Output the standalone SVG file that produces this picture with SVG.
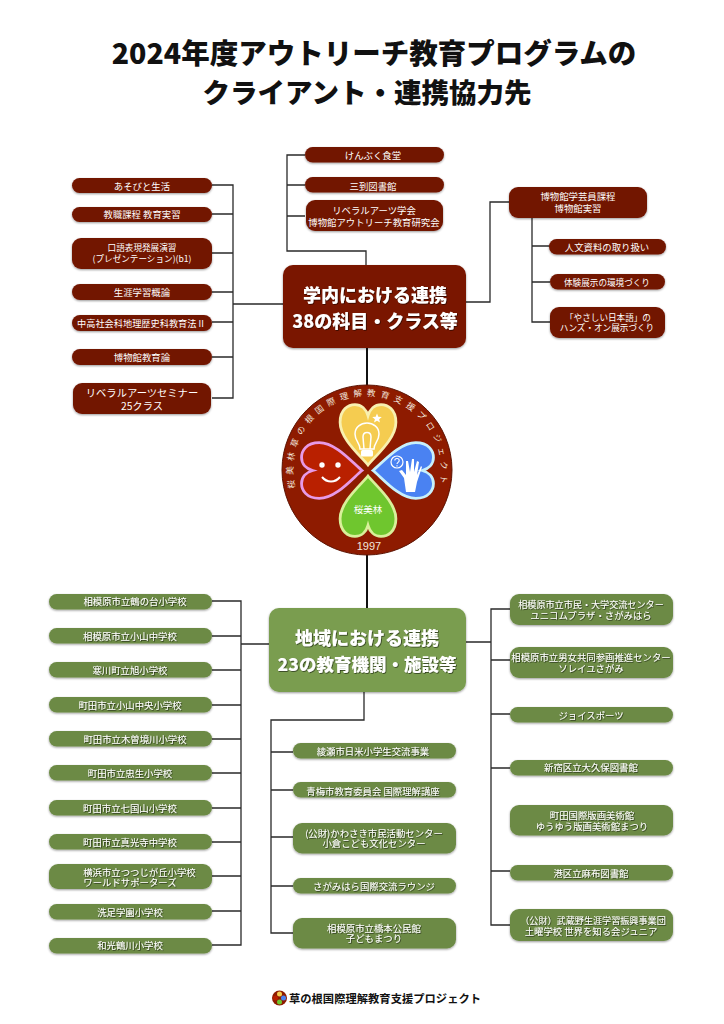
<svg xmlns="http://www.w3.org/2000/svg" width="724" height="1024" viewBox="0 0 724 1024">
<style>
text{font-family:"Noto Sans CJK JP","Liberation Sans",sans-serif;text-anchor:middle}
.r{fill:#721500;filter:url(#s)}
.g{fill:#6c8a45;filter:url(#s)}
.t{fill:#fff;font-size:9.400px}
.ts{fill:#fff;font-size:8.600px}
.tb{fill:#fff;font-size:10.300px}
.tg{fill:#fff;font-size:9.400px;filter:url(#ts)}
.big{fill:#fff;font-size:18px;font-weight:900;filter:url(#ts)}
.title{fill:#111;font-weight:900}
.c{fill:none;stroke:#2a2a2a;stroke-width:1.300}
.c2{fill:none;stroke:#111;stroke-width:2}
</style>
<defs>
<filter id="s" x="-10%" y="-20%" width="120%" height="150%"><feDropShadow dx="0" dy="1" stdDeviation="0.8" flood-color="#000" flood-opacity="0.4"/></filter>
<filter id="ts" x="-10%" y="-20%" width="120%" height="150%"><feDropShadow dx="0.7" dy="0.7" stdDeviation="0.3" flood-color="#000" flood-opacity="0.7"/></filter>
<path id="arc" d="M295.200 487.900A74 74 0 1 1 438.800 487.900"/>
<path id="heart" d="M0 0C-8-10-30-28-30-46C-30-60-21-65-14-65C-7-65-2-60 0-53C2-60 7-65 14-65C21-65 30-60 30-46C30-28 8-10 0 0Z"/>
</defs>
<text class="title" x="374" y="64" font-size="28.500">2024年度アウトリーチ教育プログラムの</text>
<text class="title" x="367" y="103" font-size="27.500">クライアント・連携協力先</text>
<g id="connectors">
<path class="c" d="M212 185H233V398H212M212 214H233M212 253H233M212 292H233M212 322H233M212 357H233M233 304H284"/>
<path class="c" d="M305 155H287V251H366V266M287 185H305M287 216H305"/>
<path class="c" d="M465 302H490V202H509M532 218V322H550M532 246H550M532 282H550"/>
<path class="c2" d="M367 347V390M367 550V609"/>
<path class="c" d="M212 601H241V945H212M212 636H241M212 670H241M212 705H241M212 739H241M212 773H241M212 808H241M212 842H241M212 876H241M212 911H241M241 644H270"/>
<path class="c" d="M364 691V720H271V933H293M271 752H293M271 790H293M271 837H293M271 886H293"/>
<path class="c" d="M466 642H491M510 609H491V925H510M491 660H510M491 714H510M491 768H510M491 871H510"/>
</g>
<g id="n-main1"><rect class="r" x="283" y="265" width="183" height="83" rx="10" style="fill:#7a1600"/><text class="big" x="375" y="301.500">学内における連携</text><text class="big" x="375" y="327.500">38の科目・クラス等</text></g>
<g id="n-l1"><rect class="r" x="72" y="178" width="140" height="15" rx="7.500"/><text class="t" x="142" y="189.500">あそびと生活</text></g>
<g id="n-l2"><rect class="r" x="72" y="207" width="140" height="15" rx="7.500"/><text class="t" x="142" y="217.500">教職課程 教育実習</text></g>
<g id="n-l3"><rect class="r" x="72" y="238" width="140" height="31" rx="9"/><text class="ts" x="142" y="251">口語表現発展演習</text><text class="ts" x="142" y="262">(プレゼンテーション)(b1)</text></g>
<g id="n-l4"><rect class="r" x="72" y="284" width="140" height="16" rx="8"/><text class="t" x="142" y="295.500">生涯学習概論</text></g>
<g id="n-l5"><rect class="r" x="72" y="315" width="140" height="16" rx="8"/><text class="ts" x="140.500" y="326.500" style="font-size:9.200px">中高社会科地理歴史科教育法 II</text></g>
<g id="n-l6"><rect class="r" x="72" y="349" width="140" height="16" rx="8"/><text class="t" x="142" y="360.500">博物館教育論</text></g>
<g id="n-l7"><rect class="r" x="73" y="383" width="138" height="31" rx="9"/><text class="tb" x="142" y="396.500">リベラルアーツセミナー</text><text class="tb" x="142" y="410">25クラス</text></g>
<g id="n-t1"><rect class="r" x="305" y="147" width="139" height="15.500" rx="7.700"/><text class="t" x="373" y="158.500">けんぶく食堂</text></g>
<g id="n-t2"><rect class="r" x="305" y="177" width="139" height="15.500" rx="7.700"/><text class="t" x="373" y="189.500">三到図書館</text></g>
<g id="n-t3"><rect class="r" x="306" y="200" width="137" height="31" rx="9"/><text class="t" x="374" y="213.500">リベラルアーツ学会</text><text class="t" x="374" y="225.500">博物館アウトリーチ教育研究会</text></g>
<g id="n-r0"><rect class="r" x="509" y="187" width="138" height="31" rx="9"/><text class="t" x="578" y="200">博物館学芸員課程</text><text class="t" x="578" y="212">博物館実習</text></g>
<g id="n-r1"><rect class="r" x="549" y="239" width="117" height="15.500" rx="7.700"/><text class="t" x="607" y="250.500">人文資料の取り扱い</text></g>
<g id="n-r2"><rect class="r" x="550" y="274" width="115" height="15.500" rx="7.700"/><text class="ts" x="607" y="285.500">体験展示の環境づくり</text></g>
<g id="n-r3"><rect class="r" x="550" y="307" width="115" height="31" rx="9"/><text class="ts" x="608" y="321">「やさしい日本語」の</text><text class="ts" x="607" y="331">ハンズ・オン展示づくり</text></g>
<g id="n-logo">
<circle cx="367" cy="470" r="85" fill="#8e1b00" stroke="#5c1100" stroke-width="1"/>
<text font-size="8.500" fill="#f2e6dc" style="text-anchor:start"><textPath href="#arc" startOffset="0" letter-spacing="4.900">桜美林草の根国際理解教育支援プロジェクト</textPath></text>
<use href="#heart" transform="translate(368 465) scale(0.93)" fill="#f5cc50" stroke="#f8f0b0" stroke-width="3"/>
<use href="#heart" transform="translate(368 476) rotate(180) scale(0.93)" fill="#6fc62e" stroke="#d9f09a" stroke-width="3"/>
<use href="#heart" transform="translate(362 470.500) rotate(-90) scale(0.93)" fill="#b92000" stroke="#e79ae6" stroke-width="3"/>
<use href="#heart" transform="translate(373 470.500) rotate(90) scale(0.93)" fill="#4a82f2" stroke="#c8f0fb" stroke-width="3"/>
<path d="M360 449C360 443 355 441 355 434C355 427 361 423 367 423C373 423 379 427 379 434C379 441 374 443 374 449ZM364 449L363 437C363 431 371 431 371 437L370 449" fill="none" stroke="#fff" stroke-width="1.500"/>
<rect x="361" y="450" width="12" height="6.500" rx="1.500" fill="#fff"/>
<path d="M377 413.500l1.300 3.200 3.500 0.200-2.700 2.300 0.900 3.400-3-1.900-3 1.900 0.900-3.400-2.700-2.300 3.500-0.200z" fill="#fff"/>
<circle cx="322" cy="465" r="2.700" fill="#fff"/><circle cx="338" cy="465" r="2.700" fill="#fff"/>
<path d="M322 477C327 483 335 483 340 477" fill="none" stroke="#fff" stroke-width="2"/>
<circle cx="397" cy="462" r="6" fill="none" stroke="#fff" stroke-width="1.200"/>
<path d="M394.800 460.500C394.800 457.800 399.200 457.800 399.200 460.500C399.200 462.300 397 462.300 397 464M397 465.300V466.500" fill="none" stroke="#fff" stroke-width="1.100"/>
<path d="M406 492L404 478L399 471L402 470L406 475L406 461L408 461L410 472L412 459L414 459L414 472L417 461L419 462L417 475L421 466L422 467L417 482L415 492Z" fill="#fff"/>
<text x="368" y="512.500" font-size="9.500" fill="#fff">桜美林</text>
<text x="369" y="550" font-size="11" fill="#f2e6dc" style="font-family:'Liberation Sans',sans-serif">1997</text>
</g>
<g id="n-main2"><rect class="g" x="269" y="608" width="197" height="84" rx="10" style="fill:#7a9d4f"/><text class="big" x="367" y="644.500">地域における連携</text><text class="big" x="367" y="670.500" style="font-size:17.500px">23の教育機関・施設等</text></g>
<g id="n-a1"><rect class="g" x="49" y="594" width="163" height="15.500" rx="7.700"/><text class="tg" x="135" y="604.500">相模原市立鶴の台小学校</text></g>
<g id="n-a2"><rect class="g" x="49" y="628" width="163" height="15.500" rx="7.700"/><text class="tg" x="130" y="639.500">相模原市立小山中学校</text></g>
<g id="n-a3"><rect class="g" x="49" y="662" width="163" height="15.500" rx="7.700"/><text class="tg" x="130" y="673.500">寒川町立旭小学校</text></g>
<g id="n-a4"><rect class="g" x="49" y="697" width="163" height="15.500" rx="7.700"/><text class="tg" x="130" y="708.500">町田市立小山中央小学校</text></g>
<g id="n-a5"><rect class="g" x="49" y="731" width="163" height="15.500" rx="7.700"/><text class="tg" x="135" y="742.500">町田市立木曽境川小学校</text></g>
<g id="n-a6"><rect class="g" x="49" y="765" width="163" height="15.500" rx="7.700"/><text class="tg" x="130" y="776.500">町田市立忠生小学校</text></g>
<g id="n-a7"><rect class="g" x="49" y="800" width="163" height="15.500" rx="7.700"/><text class="tg" x="130" y="811.500">町田市立七国山小学校</text></g>
<g id="n-a8"><rect class="g" x="49" y="834" width="163" height="15.500" rx="7.700"/><text class="tg" x="130" y="845.500">町田市立真光寺中学校</text></g>
<g id="n-a9"><rect class="g" x="49" y="864" width="163" height="25" rx="9"/><text class="tg" x="139.500" y="875.500">横浜市立つつじが丘小学校</text><text class="tg" x="130" y="885.500">ワールドサポーターズ</text></g>
<g id="n-a10"><rect class="g" x="49" y="904" width="163" height="15.500" rx="7.700"/><text class="tg" x="130" y="915.500">洗足学園小学校</text></g>
<g id="n-a11"><rect class="g" x="49" y="938" width="163" height="15.500" rx="7.700"/><text class="tg" x="130" y="948.500">和光鶴川小学校</text></g>
<g id="n-b1"><rect class="g" x="293" y="743" width="163" height="15.500" rx="7.700"/><text class="tg" x="373" y="754.500">綾瀬市日米小学生交流事業</text></g>
<g id="n-b2"><rect class="g" x="293" y="782" width="163" height="15.500" rx="7.700"/><text class="tg" x="373" y="794.500">青梅市教育委員会 国際理解講座</text></g>
<g id="n-b3"><rect class="g" x="293" y="823" width="163" height="30.500" rx="9"/><text class="tg" x="374" y="836.500">(公財)かわさき市民活動センター</text><text class="tg" x="374" y="846.500">小倉こども文化センター</text></g>
<g id="n-b4"><rect class="g" x="293" y="878" width="163" height="15.500" rx="7.700"/><text class="tg" x="374" y="889.500">さがみはら国際交流ラウンジ</text></g>
<g id="n-b5"><rect class="g" x="293" y="918" width="163" height="30.500" rx="9"/><text class="tg" x="374" y="931.500">相模原市立橋本公民館</text><text class="tg" x="374" y="941.500">子どもまつり</text></g>
<g id="n-c1"><rect class="g" x="510" y="594" width="163" height="31" rx="9"/><text class="tg" x="591" y="607.500" style="font-size:9.100px">相模原市立市民・大学交流センター</text><text class="tg" x="591" y="618.500">ユニコムプラザ・さがみはら</text></g>
<g id="n-c2"><rect class="g" x="510" y="647" width="163" height="31" rx="9"/><text class="tg" x="591" y="660.500">相模原市立男女共同参画推進センター</text><text class="tg" x="591" y="671.500">ソレイユさがみ</text></g>
<g id="n-c3"><rect class="g" x="510" y="707" width="163" height="15.500" rx="7.700"/><text class="tg" x="591" y="718.500">ジョイスポーツ</text></g>
<g id="n-c4"><rect class="g" x="510" y="760" width="163" height="15.500" rx="7.700"/><text class="tg" x="591" y="770.500">新宿区立大久保図書館</text></g>
<g id="n-c5"><rect class="g" x="510" y="805" width="163" height="30.500" rx="9"/><text class="tg" x="592" y="818.500">町田国際版画美術館</text><text class="tg" x="592" y="829.500">ゆうゆう版画美術館まつり</text></g>
<g id="n-c6"><rect class="g" x="510" y="865" width="163" height="15.500" rx="7.700"/><text class="tg" x="591" y="876.500">港区立麻布図書館</text></g>
<g id="n-c7"><rect class="g" x="510" y="909" width="163" height="32" rx="9"/><text class="tg" x="593" y="923.500" style="font-size:9.100px">（公財）武蔵野生涯学習振興事業団</text><text class="tg" x="591" y="934.500">土曜学校 世界を知る会ジュニア</text></g>
<g id="n-footer">
<circle cx="279.500" cy="998" r="7.500" fill="#8e1b00"/>
<circle cx="279.500" cy="994" r="2.500" fill="#f5cc50"/><circle cx="275.500" cy="998" r="2.500" fill="#b92000"/><circle cx="283.500" cy="998" r="2.500" fill="#4a82f2"/><circle cx="279.500" cy="1002" r="2.500" fill="#6fc62e"/>
<text x="385" y="1002.500" font-size="11.300" font-weight="700" fill="#111">草の根国際理解教育支援プロジェクト</text>
</g>
</svg>
